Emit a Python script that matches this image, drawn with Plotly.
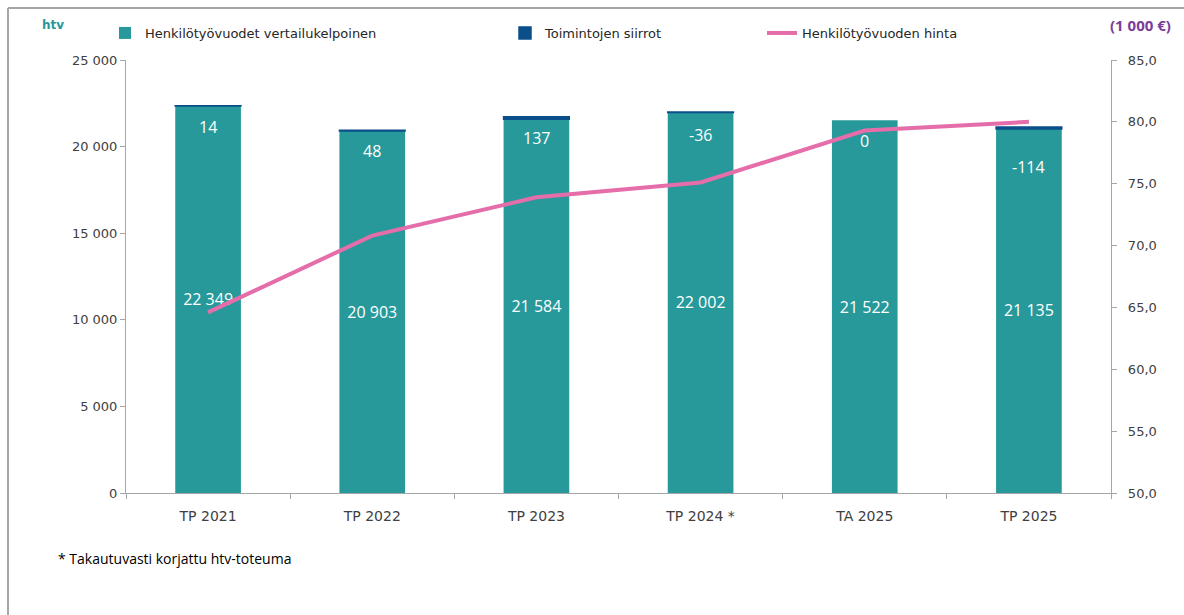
import plotly.graph_objects as go

## DATA
categories = ["TP 2021", "TP 2022", "TP 2023", "TP 2024 *", "TA 2025", "TP 2025"]
htv_vertailukelpoinen = [22349, 20903, 21584, 22002, 21522, 21135]
toimintojen_siirrot = [14, 48, 137, -36, 0, -114]
htv_hinta = [64.6, 70.8, 73.9, 75.1, 79.3, 80.0]  # 1 000 €

TEAL = "#27999A"
NAVY = "#0B4F8A"
PINK = "#E46DAA"
GREY = "#A6A6A6"
TICK_FONT = dict(family="DejaVu Sans", size=13, color="#404040")

# plot area in pixels (to place the extra texts outside it)
L, R, T, B, W, H = 126, 73, 60, 122, 1184, 615
pw, ph = W - L - R, H - T - B


def px_x(x):
    return (x - L) / pw


def px_y(y):
    return (H - B - y) / ph


fig = go.Figure()

fig.add_trace(go.Bar(
    x=categories, y=htv_vertailukelpoinen,
    name="Henkilötyövuodet vertailukelpoinen",
    marker=dict(color=TEAL, line=dict(width=0)),
    text=htv_vertailukelpoinen, texttemplate="%{y:,d}",
    textposition="inside", insidetextanchor="middle",
    textfont=dict(family="Open Sans", size=16, color="white"),
    legend="legend", showlegend=True,
))

# thin dark segment stacked on the bar top
fig.add_trace(go.Bar(
    x=categories, y=toimintojen_siirrot, base=htv_vertailukelpoinen,
    name="Toimintojen siirrot",
    marker=dict(color=NAVY,
                line=dict(color=NAVY, width=[0 if v == 0 else 1.5 for v in toimintojen_siirrot])),
    legend="legend2", showlegend=True,
))

fig.add_trace(go.Scatter(
    x=categories, y=htv_hinta, yaxis="y2",
    name="Henkilötyövuoden hinta", mode="lines",
    line=dict(color=PINK, width=4),
    legend="legend3", showlegend=True,
))

# labels of the transfers, just below the bar tops
label_shift = [-21, -21, -21, -22, -21, -38]
for c, base, v, s in zip(categories, htv_vertailukelpoinen, toimintojen_siirrot, label_shift):
    fig.add_annotation(
        x=c, y=base + v, text=str(v), showarrow=False, yshift=s,
        font=dict(family="Open Sans", size=16, color="white"),
    )

fig.add_annotation(text="<b>htv</b>", x=px_x(40), y=px_y(25), xref="paper", yref="paper",
                   xanchor="left", yanchor="middle", showarrow=False,
                   font=dict(family="DejaVu Sans", size=12, color=TEAL))
fig.add_annotation(text="<b>(1 000 €)</b>", x=px_x(1108), y=px_y(25), xref="paper", yref="paper",
                   xanchor="left", yanchor="middle", showarrow=False,
                   font=dict(family="Open Sans", size=15, color="#7A3D9A"))
fig.add_annotation(text="* Takautuvasti korjattu htv-toteuma", x=px_x(56), y=px_y(558),
                   xref="paper", yref="paper", xanchor="left", yanchor="middle", showarrow=False,
                   font=dict(family="Open Sans", size=14, color="black"))

# frame of the original picture
fig.add_shape(type="line", xref="paper", yref="paper", x0=px_x(8), x1=px_x(1200),
              y0=px_y(8), y1=px_y(8), line=dict(color=GREY, width=2))
fig.add_shape(type="line", xref="paper", yref="paper", x0=px_x(8), x1=px_x(8),
              y0=px_y(8), y1=px_y(630), line=dict(color=GREY, width=2))

legend_font = dict(family="DejaVu Sans", size=13, color="#262626")
fig.update_layout(
    width=W, height=H,
    margin=dict(l=L, r=R, t=T, b=B),
    barmode="overlay", bargap=0.6,
    plot_bgcolor="white", paper_bgcolor="white",
    separators=", ",
    showlegend=True,
    xaxis=dict(showline=True, linecolor=GREY, ticks="outside", tickcolor=GREY,
               ticklen=5, tickson="boundaries", ticklabelstandoff=10,
               tickfont=dict(family="DejaVu Sans", size=14, color="#404040"),
               showgrid=False),
    yaxis=dict(range=[0, 25000], dtick=5000, tickformat=",d", showline=True, linecolor=GREY,
               ticks="outside", tickcolor=GREY, ticklen=5, showgrid=False, zeroline=False,
               tickfont=TICK_FONT),
    yaxis2=dict(range=[50, 85], dtick=5, tickformat=".1f", overlaying="y", side="right",
                showline=True, linecolor=GREY, ticks="outside", tickcolor=GREY, ticklen=5,
                tickprefix="\u00a0\u00a0", showgrid=False, zeroline=False, tickfont=TICK_FONT),
    legend=dict(x=px_x(105), y=px_y(33), xanchor="left", yanchor="middle",
                orientation="h", font=legend_font, bgcolor="rgba(0,0,0,0)"),
    legend2=dict(x=px_x(505), y=px_y(33), xanchor="left", yanchor="middle",
                 orientation="h", font=legend_font, bgcolor="rgba(0,0,0,0)"),
    legend3=dict(x=px_x(762), y=px_y(33), xanchor="left", yanchor="middle",
                 orientation="h", font=legend_font, bgcolor="rgba(0,0,0,0)"),
)

# drop the default page margin so the figure sits at the top-left corner
fig.write_html("out.html", config={"displayModeBar": False},
               post_script="document.body.style.margin='0';")
